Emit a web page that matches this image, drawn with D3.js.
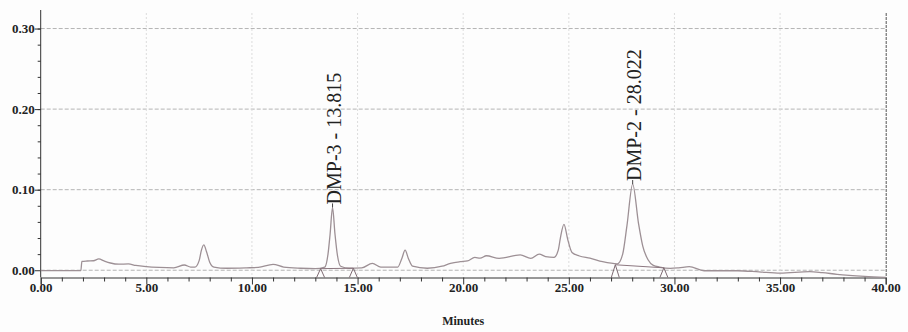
<!DOCTYPE html>
<html>
<head>
<meta charset="utf-8">
<script src="https://cdn.jsdelivr.net/npm/d3@7"></script>
<style>
  body { margin: 0; background: #fff; }
  svg { display: block; }
</style>
</head>
<body>
<div id="chart"></div>
<script>
// retention time (minutes) and absorbance
const times = [
  0.0, 1.9, 1.95, 2.2, 2.5, 2.75, 3.0, 3.3, 3.7, 4.15, 4.5, 5.0, 5.6, 6.3, 6.8, 7.1,
  7.3, 7.5, 7.6, 7.72, 7.85, 8.0, 8.2, 8.8, 9.75, 10.3, 11.0, 11.5, 12.3, 13.0,
  13.45, 13.6, 13.7, 13.815, 13.93, 14.05, 14.2, 14.6, 15.2, 15.7, 16.1, 16.9,
  17.1, 17.25, 17.4, 17.6, 18.3, 19.0, 19.4, 19.85, 20.2, 20.55, 20.8, 21.1, 21.7,
  22.7, 23.2, 23.6, 23.9, 24.3, 24.5, 24.6, 24.77, 24.95, 25.15, 25.5, 26.0, 26.6,
  27.3, 27.55, 27.75, 28.022, 28.3, 28.5, 28.75, 29.0, 29.3, 29.8, 30.2, 30.7,
  31.4, 33.0, 34.0, 35.0, 36.4, 37.0, 37.7, 39.0, 40.0
];
const absorbance = [
  -0.0005, -0.0005, 0.011, 0.0115, 0.0118, 0.014, 0.0115, 0.009, 0.0075, 0.0078, 0.006, 0.0045, 0.0035, 0.003, 0.0065, 0.004,
  0.004, 0.012, 0.024, 0.0314, 0.023, 0.01, 0.004, 0.0025, 0.003, 0.0035, 0.0074, 0.004, 0.0025, 0.002,
  0.004, 0.02, 0.045, 0.078, 0.045, 0.018, 0.005, 0.0025, 0.003, 0.0085, 0.004, 0.004,
  0.015, 0.025, 0.015, 0.005, 0.0025, 0.005, 0.0086, 0.0106, 0.0115, 0.016, 0.015, 0.018, 0.0148,
  0.019, 0.0148, 0.02, 0.017, 0.016, 0.025, 0.04, 0.057, 0.038, 0.022, 0.0177, 0.015, 0.0106,
  0.008, 0.02, 0.055, 0.107, 0.058, 0.03, 0.013, 0.006, 0.004, 0.0024, 0.003, 0.0044,
  -0.0006, -0.0006, -0.002, -0.0035, -0.0018, -0.003, -0.005, -0.0075, -0.0088
];

// integrated peaks: label, apex, start / end markers
const peakNames = ["DMP-3", "DMP-2"];
const peakTimes = [13.815, 28.022];
const peakHeights = [0.078, 0.107];
const peakStart = [[13.25, 0.002], [27.2, 0.0068]];
const peakEnd = [[14.8, 0.0025], [29.5, 0.003]];

const yTicks = [0, 0.1, 0.2, 0.3];
const xTicks = [0, 5, 10, 15, 20, 25, 30, 35, 40];

const W = 908, H = 332;
const margin = { left: 40.7, right: 22.3, top: 10, bottom: 54.5 };
const serif = "'Liberation Serif', 'Times New Roman', serif";

const svg = d3.select("#chart").append("svg")
  .attr("width", W)
  .attr("height", H)
  .style("font-family", serif);

svg.append("rect").attr("width", W).attr("height", H).attr("fill", "#fdfdfd");

const x = d3.scaleLinear().domain([0, 40]).range([margin.left, W - margin.right]);
const y = d3.scaleLinear().domain([-0.009, 0.323]).range([H - margin.bottom, margin.top]);

// grid
svg.append("g").selectAll("line").data(yTicks).join("line")
  .attr("x1", x(0)).attr("x2", x(40))
  .attr("y1", d => y(d)).attr("y2", d => y(d))
  .attr("stroke", "#b4b4b4")
  .attr("stroke-dasharray", "4,2");

svg.append("g").selectAll("line").data(xTicks.slice(1, -1)).join("line")
  .attr("x1", d => x(d)).attr("x2", d => x(d))
  .attr("y1", 13).attr("y2", y(-0.009))
  .attr("stroke", "#dcdcdc")
  .attr("stroke-dasharray", "2,2");

// right frame
svg.append("line")
  .attr("x1", x(40) + 0.5).attr("x2", x(40) + 0.5)
  .attr("y1", 13).attr("y2", y(-0.009))
  .attr("stroke", "#555")
  .attr("stroke-dasharray", "3,1");

// axes
const yAxis = svg.append("g")
  .attr("transform", `translate(${margin.left},0)`)
  .call(d3.axisLeft(y).tickValues(yTicks).tickSize(6).tickFormat(d3.format(".2f")));
svg.append("g")
  .attr("transform", `translate(${margin.left},0)`)
  .call(d3.axisLeft(y).tickValues(d3.range(0.02, 0.32, 0.02)).tickSize(3).tickFormat(""))
  .select(".domain").remove();
yAxis.select(".domain").attr("d", `M0,${y(0.323)}V${y(-0.009)}`).attr("stroke", "#333");
yAxis.selectAll("text")
  .attr("x", -6)
  .attr("font-family", serif)
  .attr("font-size", 13)
  .attr("font-weight", "bold")
  .attr("fill", "#222");

const xAxis = svg.append("g")
  .attr("transform", `translate(0,${y(-0.009)})`)
  .call(d3.axisBottom(x).tickValues(xTicks).tickSize(7).tickFormat(d3.format(".2f")));
svg.append("g")
  .attr("transform", `translate(0,${y(-0.009)})`)
  .call(d3.axisBottom(x).tickValues(d3.range(1, 40, 1).filter(d => d % 5 != 0)).tickSize(4).tickFormat(""))
  .select(".domain").remove();
xAxis.select(".domain").attr("stroke", "#333");
xAxis.selectAll("text")
  .attr("y", 5)
  .attr("font-family", serif)
  .attr("font-size", 13)
  .attr("font-weight", "bold")
  .attr("fill", "#222");
svg.selectAll(".tick line").attr("stroke", "#333");

svg.append("text")
  .attr("x", x(20))
  .attr("y", 325)
  .attr("text-anchor", "middle")
  .attr("font-size", 12)
  .attr("font-weight", "bold")
  .attr("fill", "#222")
  .text("Minutes");

// trace
const trace = times.map((t, i) => [t, absorbance[i]]);
svg.append("path")
  .datum(trace)
  .attr("fill", "none")
  .attr("stroke", "#9d9095")
  .attr("stroke-width", 1.3)
  .attr("stroke-linejoin", "round")
  .attr("d", d3.line().x(d => x(d[0])).y(d => y(d[1])).curve(d3.curveMonotoneX));

// integration baselines and start/end markers
peakNames.forEach((name, i) => {
  svg.append("line")
    .attr("x1", x(peakStart[i][0])).attr("y1", y(peakStart[i][1]))
    .attr("x2", x(peakEnd[i][0])).attr("y2", y(peakEnd[i][1]))
    .attr("stroke", "#8c7780")
    .attr("stroke-width", 1);

  [peakStart[i], peakEnd[i]].forEach(p => {
    const px = x(p[0]), top = y(p[1]), base = y(-0.009);
    svg.append("path")
      .attr("d", `M${px - 4},${base}L${px},${top}L${px + 4},${base}`)
      .attr("fill", "none")
      .attr("stroke", "#7d6a72")
      .attr("stroke-width", 1);
  });

  const px = x(peakTimes[i]), py = y(peakHeights[i]);
  svg.append("line")
    .attr("x1", px).attr("x2", px)
    .attr("y1", py).attr("y2", py - 4)
    .attr("stroke", "#444");
  svg.append("text")
    .attr("transform", `translate(${px + 8.5},${py - 3}) rotate(-90)`)
    .attr("font-size", 20)
    .attr("fill", "#222")
    .text(name + " - " + peakTimes[i].toFixed(3));
});
</script>
</body>
</html>
